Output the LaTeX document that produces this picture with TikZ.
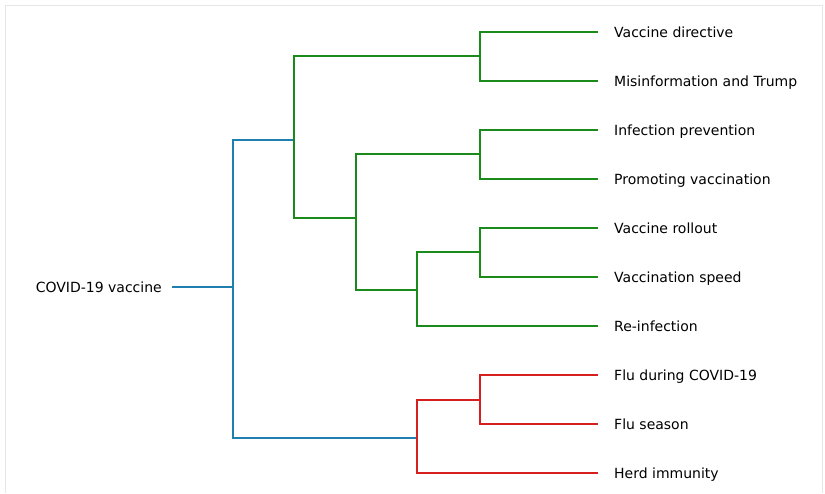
\documentclass[tikz,border=0pt]{standalone}
\usepackage{fontspec}
\setmainfont{DejaVu Sans}
\definecolor{rootblue}{HTML}{1F80B0}
\definecolor{clustgreen}{HTML}{1A8A1A}
\definecolor{clustred}{HTML}{D62020}
\definecolor{framegray}{HTML}{E6E6E6}
\tikzset{
    branch/.style={line width=2.2pt},
    leaf/.style={anchor=west, inner xsep=16pt, inner ysep=0pt, text height=10pt, text depth=0pt, font=\fontsize{14}{16}\selectfont},
    rootlabel/.style={anchor=east, inner xsep=10pt, inner ysep=0pt, text height=10pt, text depth=0pt, font=\fontsize{14}{16}\selectfont}
}

\begin{document}
\begin{tikzpicture}[x=1pt, y=-1pt]
    \useasboundingbox (0,0) rectangle (825,493);
    \draw[framegray, line width=1pt] (5,493) -- (5,5) -- (822,5) -- (822,493);

%%%%%%%%%%%%%%%%%%%%%%%%%%%%%%%%%%%%%%%%%%
    % labels
    \node[rootlabel] (root) at (172,287) {COVID-19 vaccine};
    \node[leaf] (l1) at (598,32) {Vaccine directive};
    \node[leaf] (l2) at (598,81) {Misinformation and Trump};
    \node[leaf] (l3) at (598,130) {Infection prevention};
    \node[leaf] (l4) at (598,179) {Promoting vaccination};
    \node[leaf] (l5) at (598,228) {Vaccine rollout};
    \node[leaf] (l6) at (598,277) {Vaccination speed};
    \node[leaf] (l7) at (598,326) {Re-infection};
    \node[leaf] (l8) at (598,375) {Flu during COVID-19};
    \node[leaf] (l9) at (598,424) {Flu season};
    \node[leaf] (l10) at (598,473) {Herd immunity};

    % junctions
    \coordinate (r) at (233,287);
    \coordinate (g) at (294,140);
    \coordinate (g1) at (480,56);
    \coordinate (g2) at (356,218);
    \coordinate (g3) at (480,154);
    \coordinate (g4) at (417,290);
    \coordinate (g5) at (480,252);
    \coordinate (b) at (417,438);
    \coordinate (b1) at (480,400);

%%%%%%%%%%%%%%%%%%%%%%%%%%%%%%%%%%%%%%%%%%
    % root
    \draw[branch, rootblue] (root.east) -- (r);
    \draw[branch, rootblue] (r) |- (g);
    \draw[branch, rootblue] (r) |- (b);

    % green cluster
    \draw[branch, clustgreen] (g) |- (g1);
    \draw[branch, clustgreen] (g) |- (g2);
    \draw[branch, clustgreen] (g1) |- (l1.west);
    \draw[branch, clustgreen] (g1) |- (l2.west);
    \draw[branch, clustgreen] (g2) |- (g3);
    \draw[branch, clustgreen] (g2) |- (g4);
    \draw[branch, clustgreen] (g3) |- (l3.west);
    \draw[branch, clustgreen] (g3) |- (l4.west);
    \draw[branch, clustgreen] (g4) |- (g5);
    \draw[branch, clustgreen] (g4) |- (l7.west);
    \draw[branch, clustgreen] (g5) |- (l5.west);
    \draw[branch, clustgreen] (g5) |- (l6.west);

    % red cluster
    \draw[branch, clustred] (b) |- (b1);
    \draw[branch, clustred] (b) |- (l10.west);
    \draw[branch, clustred] (b1) |- (l8.west);
    \draw[branch, clustred] (b1) |- (l9.west);
\end{tikzpicture}
\end{document}
